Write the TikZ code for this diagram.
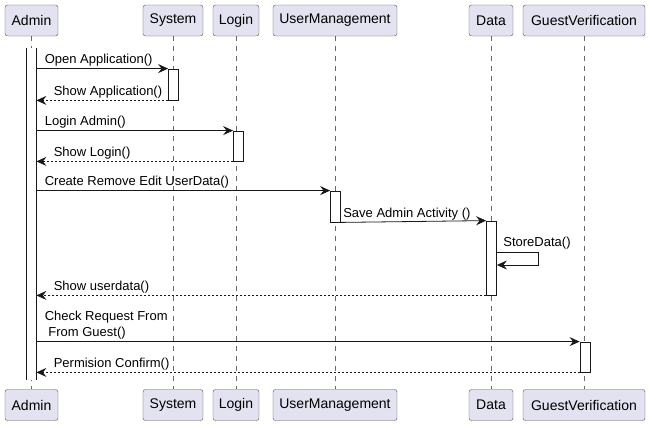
\documentclass[tikz,border=0pt]{standalone}
\usepackage{fontspec}
\setmainfont{Liberation Sans}
\usetikzlibrary{arrows.meta}
\definecolor{fondacteur}{HTML}{E2E2F0}
\definecolor{trait}{HTML}{181818}

\begin{document}
\begin{tikzpicture}[x=1pt, y=-1pt]
	\tikzset{acteur/.style={draw=trait!75, fill=fondacteur, rounded corners=2.5pt, minimum height=31pt, inner sep=0pt, font=\fontsize{14}{16}\selectfont},
	vie/.style={draw=trait!65, line width=0.6pt, dash pattern=on 5pt off 5pt},
	barre/.style={draw=trait, fill=white, line width=0.8pt, minimum width=10pt, inner sep=0pt},
	appel/.style={draw=trait, line width=0.8pt, -{Stealth[length=10pt, width=9pt, inset=3.5pt]}},
	retour/.style={appel, dash pattern=on 2pt off 2pt},
	texte/.style={font=\fontsize{13}{16}\selectfont, inner sep=0pt, anchor=south west, align=left}};

	\useasboundingbox (0,0) rectangle (650,426);

	\foreach \name/\x/\w/\txt in {admin/31.5/53/Admin, system/173/60/System, login/236/46/Login, usermgmt/335/124/UserManagement, data/491/44/Data, guest/584/122/GuestVerification}{
		\node[acteur, minimum width=\w pt] (\name-haut) at (\x, 20.5) {\txt};
		\node[acteur, minimum width=\w pt] (\name-bas) at (\x, 405) {\txt};
		\draw[vie] (\name-haut) -- (\name-bas);
	}

	% barres d'activation
	\node[barre, draw=none, minimum width=9pt, minimum height=332pt] (admin-act) at (31.5, 214) {};
	\draw[trait, line width=0.8pt] (admin-act.north west) -- (admin-act.south west) (admin-act.north east) -- (admin-act.south east);
	\node[barre, minimum height=31pt] (system-act) at (173.5, 84.5) {};
	\node[barre, minimum height=30pt] (login-act) at (238.5, 146) {};
	\node[barre, minimum height=31pt] (usermgmt-act) at (335.5, 206.5) {};
	\node[barre, minimum height=74pt] (data-act) at (491.5, 258) {};
	\node[barre, minimum height=30pt] (guest-act) at (585, 357) {};

	\draw[appel] (admin-act.east |- system-act.north) -- node[texte, pos=0, xshift=8pt, yshift=2pt] {Open Application()} (system-act.north west);
	\draw[retour] (system-act.south west) -- node[texte, pos=1, xshift=17pt, yshift=2pt] {Show Application()} (admin-act.east |- system-act.south);
	\draw[appel] (admin-act.east |- login-act.north) -- node[texte, pos=0, xshift=8pt, yshift=2pt] {Login Admin()} (login-act.north west);
	\draw[retour] (login-act.south west) -- node[texte, pos=1, xshift=17pt, yshift=2pt] {Show Login()} (admin-act.east |- login-act.south);
	\draw[appel] (admin-act.east |- usermgmt-act.north) -- node[texte, pos=0, xshift=8pt, yshift=2pt] {Create Remove Edit UserData()} (usermgmt-act.north west);
	\draw[appel] (usermgmt-act.south east) -- node[texte, pos=0, xshift=2pt, yshift=2pt] {Save Admin Activity ()} (data-act.north west);
	\draw[appel] (data-act.east |- 0,252) -| (538,265) -- node[texte, pos=0, at start, xshift=-35pt, yshift=15pt] {StoreData()} (data-act.east |- 0,265);
	\draw[retour] (data-act.south west) -- node[texte, pos=1, xshift=17pt, yshift=2pt] {Show userdata()} (admin-act.east |- data-act.south);
	\draw[appel] (admin-act.east |- guest-act.north) -- node[texte, pos=0, xshift=8pt, yshift=2pt] {Check Request From\\\ From Guest()} (guest-act.north west);
	\draw[retour] (guest-act.south west) -- node[texte, pos=1, xshift=17pt, yshift=2pt] {Permision Confirm()} (admin-act.east |- guest-act.south);

\end{tikzpicture}
\end{document}
